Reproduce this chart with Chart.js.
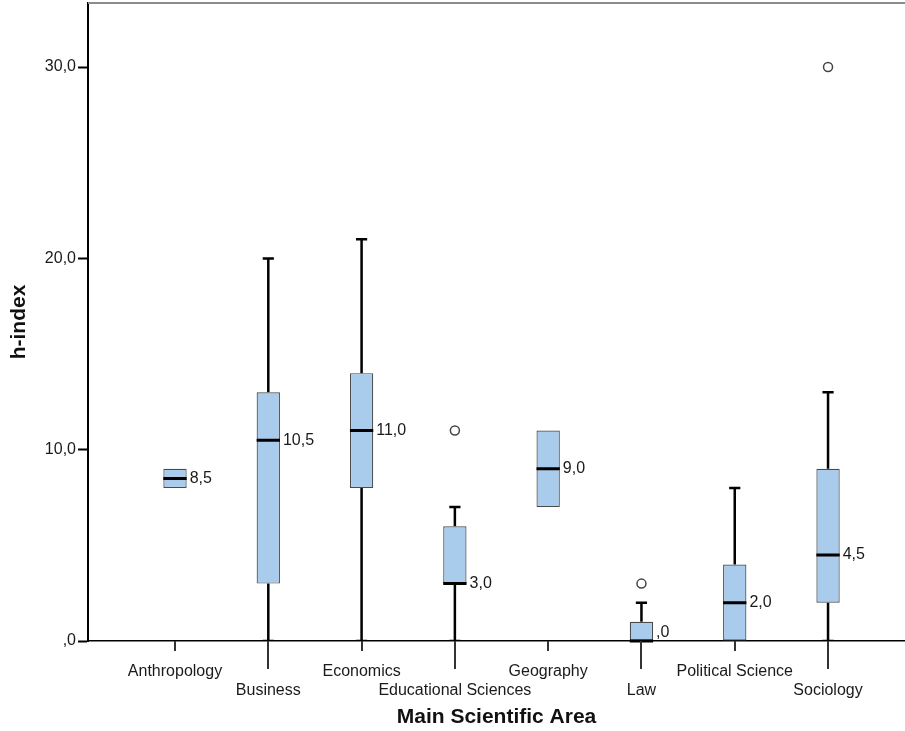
<!DOCTYPE html>
<html>
<head>
<meta charset="utf-8">
<script src="https://cdn.jsdelivr.net/npm/chart.js@4.4.0/dist/chart.umd.min.js"></script>
<style>
  html, body { margin: 0; padding: 0; background: #fff; }
  #wrap { width: 905px; height: 731px; }
</style>
</head>
<body>
<div id="wrap"><canvas id="myChart" width="905" height="731"></canvas></div>
<script>
const categories = ['Anthropology', 'Business', 'Economics', 'Educational Sciences', 'Geography', 'Law', 'Political Science', 'Sociology'];
const whiskerLow = [8, 0, 0, 0, 7, 0, 0, 0];
const q1 = [8, 3, 8, 3, 7, 0, 0, 2];
const median = [8.5, 10.5, 11, 3, 9, 0, 2, 4.5];
const q3 = [9, 13, 14, 6, 11, 1, 4, 9];
const whiskerHigh = [9, 20, 21, 7, 11, 2, 8, 13];
const outliers = [[], [], [], [11], [], [3], [], [30]];
const yTicks = [0, 10, 20, 30];

const boxHalf = 0.125;
const capHalf = 0.06;

// SPSS style number format: 10,5  ,0
const fmt = v => {
    const s = v.toFixed(1).replace('.', ',');
    return s.startsWith('0') ? s.slice(1) : s;
};

const whiskerPts = [];
const capPts = [];
const medianPts = [];
const outlierPts = [];
categories.forEach((c, i) => {
    if (whiskerHigh[i] > q3[i]) {
        whiskerPts.push({x: i, y: q3[i]}, {x: i, y: whiskerHigh[i]}, {x: i, y: null});
        capPts.push({x: i - capHalf, y: whiskerHigh[i]}, {x: i + capHalf, y: whiskerHigh[i]}, {x: i, y: null});
    }
    if (whiskerLow[i] < q1[i]) {
        whiskerPts.push({x: i, y: whiskerLow[i]}, {x: i, y: q1[i]}, {x: i, y: null});
        capPts.push({x: i - capHalf, y: whiskerLow[i]}, {x: i + capHalf, y: whiskerLow[i]}, {x: i, y: null});
    }
    medianPts.push({x: i - boxHalf, y: median[i]}, {x: i + boxHalf, y: median[i]}, {x: i, y: null});
    outliers[i].forEach(v => outlierPts.push({x: i, y: v}));
});

Chart.defaults.font.family = '"Liberation Sans", Arial, sans-serif';
Chart.defaults.color = '#1a1a1a';

const boxExtras = {
    id: 'boxExtras',
    afterDatasetsDraw(chart) {
        const {ctx, scales: {x, y}} = chart;
        ctx.save();
        ctx.font = '16px "Liberation Sans", Arial, sans-serif';
        ctx.fillStyle = '#1a1a1a';
        ctx.textBaseline = 'middle';
        ctx.textAlign = 'left';
        median.forEach((m, i) => {
            const py = Math.min(y.getPixelForValue(m), y.bottom - 8);
            ctx.fillText(fmt(m), x.getPixelForValue(i + boxHalf) + 3, py);
        });
        ctx.restore();
    },
    afterDraw(chart) {
        const {ctx, chartArea, scales: {x, y}} = chart;
        ctx.save();
        // category tick marks, longer for the lower row of labels
        ctx.strokeStyle = '#333';
        ctx.lineWidth = 2;
        categories.forEach((c, i) => {
            const px = Math.round(x.getPixelForValue(i));
            ctx.beginPath();
            ctx.moveTo(px, y.bottom);
            ctx.lineTo(px, y.bottom + (i % 2 ? 28 : 10));
            ctx.stroke();
        });
        // top frame line
        ctx.strokeStyle = '#8c8c8c';
        ctx.lineWidth = 2;
        ctx.beginPath();
        ctx.moveTo(chartArea.left, chartArea.top);
        ctx.lineTo(chartArea.right, chartArea.top);
        ctx.stroke();
        ctx.restore();
    }
};

const ctx = document.getElementById('myChart').getContext('2d');
const myChart = new Chart(ctx, {
    type: 'bar',
    data: {
        datasets: [{
            type: 'line',
            data: whiskerPts,
            borderColor: '#000',
            borderWidth: 2.5,
            pointRadius: 0,
            spanGaps: false,
            order: 4
        }, {
            type: 'line',
            data: capPts,
            borderColor: '#000',
            borderWidth: 2.5,
            pointRadius: 0,
            spanGaps: false,
            order: 3
        }, {
            type: 'bar',
            data: categories.map((c, i) => ({x: i, y: [q1[i], q3[i]]})),
            backgroundColor: '#a9cced',
            borderColor: '#4a4a4a',
            borderWidth: 1.2,
            borderSkipped: false,
            barPercentage: boxHalf * 2,
            categoryPercentage: 1,
            order: 2
        }, {
            type: 'line',
            data: medianPts,
            borderColor: '#000',
            borderWidth: 3,
            pointRadius: 0,
            spanGaps: false,
            clip: false,
            order: 1
        }, {
            type: 'line',
            data: outlierPts,
            showLine: false,
            pointRadius: 4.5,
            pointBorderWidth: 1.5,
            pointBorderColor: '#444',
            pointBackgroundColor: '#fff',
            order: 0
        }]
    },
    options: {
        responsive: false,
        animation: false,
        layout: { autoPadding: false, padding: { top: 3, left: 0, right: 0, bottom: 0 } },
        plugins: {
            legend: { display: false },
            tooltip: { enabled: false }
        },
        scales: {
            x: {
                type: 'linear',
                offset: false,
                min: -0.9326,
                max: 7.825,
                afterBuildTicks: s => { s.ticks = categories.map((c, i) => ({value: i})); },
                afterFit: s => { s.height = 90; s.paddingLeft = 0; s.paddingRight = 0; },
                grid: { display: false },
                border: { display: true, color: '#000', width: 1.5 },
                ticks: {
                    autoSkip: false,
                    maxRotation: 0,
                    padding: 13,
                    font: { size: 16 },
                    color: '#1a1a1a',
                    callback: v => (v % 2 ? ['', categories[v]] : categories[v])
                },
                title: {
                    display: true,
                    text: 'Main Scientific Area',
                    font: { size: 21, weight: 'bold' },
                    color: '#111',
                    padding: { top: 1, bottom: 1 }
                }
            },
            y: {
                min: 0,
                max: 33.35,
                afterBuildTicks: s => { s.ticks = yTicks.map(v => ({value: v})); },
                afterFit: s => { s.width = 88; s.paddingTop = 0; s.paddingBottom = 0; },
                grid: {
                    display: true,
                    drawOnChartArea: false,
                    drawTicks: true,
                    tickLength: 10,
                    tickColor: '#000',
                    tickWidth: 2
                },
                border: { display: true, color: '#000', width: 2 },
                ticks: {
                    padding: 2,
                    font: { size: 16 },
                    color: '#1a1a1a',
                    callback: v => fmt(v)
                },
                title: {
                    display: true,
                    text: 'h-index',
                    font: { size: 21, weight: 'bold' },
                    color: '#111',
                    padding: { top: 7, bottom: 7 }
                }
            }
        }
    },
    plugins: [boxExtras]
});
</script>
</body>
</html>
